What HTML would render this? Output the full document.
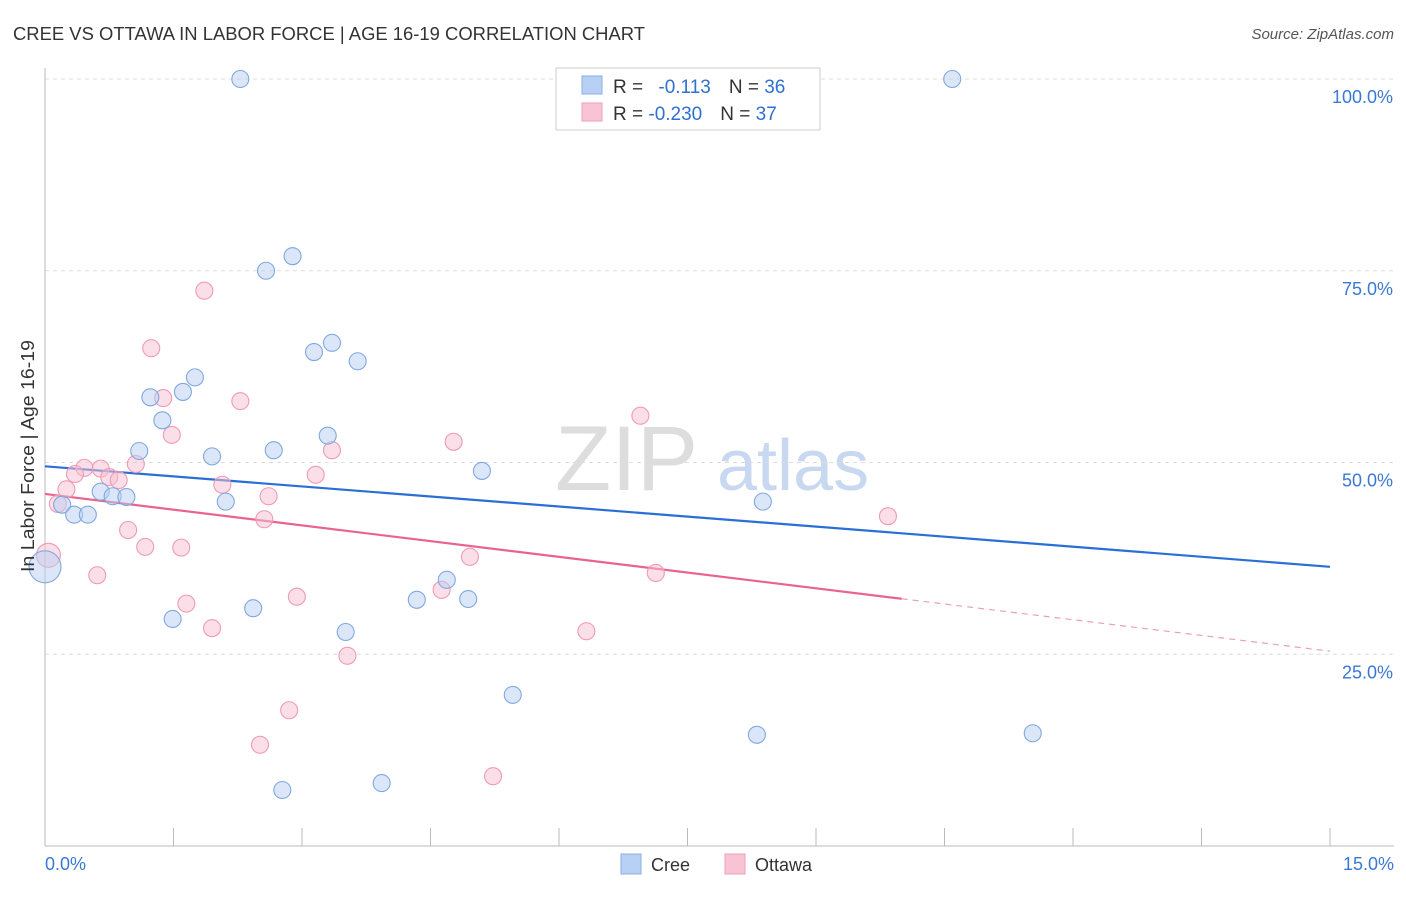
<!DOCTYPE html>
<html><head><meta charset="utf-8"><style>
body{margin:0;background:#fff;font-family:"Liberation Sans",sans-serif;}
svg text{font-family:"Liberation Sans",sans-serif;}
</style></head><body>
<svg width="1406" height="892" xmlns="http://www.w3.org/2000/svg">
<text x="13" y="40" font-size="18" fill="#333" textLength="632" lengthAdjust="spacingAndGlyphs">CREE VS OTTAWA IN LABOR FORCE | AGE 16-19 CORRELATION CHART</text>
<text x="1394" y="39" font-size="15" fill="#555" text-anchor="end" font-style="italic">Source: ZipAtlas.com</text>
<g>
<text x="555" y="490" font-size="92" fill="#ddd" font-family="Liberation Serif">ZIP</text>
<text x="717" y="490" font-size="72" fill="#c8d8f0">atlas</text>
</g>
<g id="grid"></g>
<g id="axes"></g>
<g id="lines"></g>
<g id="pts"></g>
<g>
<rect x="556" y="68" width="264" height="62" fill="#fff" stroke="#ccc"/>
<rect x="582" y="76" width="20" height="18" fill="#b8d0f4" stroke="#88aee0"/>
<rect x="582" y="103" width="20" height="18" fill="#f8c4d4" stroke="#f0a0b8"/>
<text x="613" y="93" font-size="19" fill="#333">R = <tspan fill="#3070d0" dx="10">-0.113</tspan><tspan fill="#333" dx="18">N = </tspan><tspan fill="#3070d0">36</tspan></text>
<text x="613" y="120" font-size="19" fill="#333">R = <tspan fill="#3070d0">-0.230</tspan><tspan fill="#333" dx="18">N = </tspan><tspan fill="#3070d0">37</tspan></text>
</g>
<g>
<rect x="621" y="854" width="20" height="20" fill="#b8d0f4" stroke="#88aee0"/>
<text x="651" y="871" font-size="18" fill="#333">Cree</text>
<rect x="725" y="854" width="20" height="20" fill="#f8c4d4" stroke="#f0a0b8"/>
<text x="755" y="871" font-size="18" fill="#333">Ottawa</text>
</g>
<text x="34" y="456" font-size="18" fill="#333" text-anchor="middle" textLength="232" lengthAdjust="spacingAndGlyphs" transform="rotate(-90 34 456)">In Labor Force | Age 16-19</text>
</svg>
<script>
const yTicks=[100,75,50,25];
const yTickLabels=["100.0%","75.0%","50.0%","25.0%"];
const xTickLabels=["0.0%","15.0%"];
const creeX=[2.28,10.59,2.89,2.58,3.35,3.14,3.65,1.75,1.61,1.23,1.37,3.30,1.10,2.67,1.95,5.10,0.65,0.79,0.95,2.11,8.38,0.20,0.34,0.50,0,4.69,4.34,4.94,2.43,1.49,3.51,5.46,8.31,11.53,2.77,3.93];
const creeY=[100,100,76.9,75.0,65.6,64.4,63.2,61.1,59.2,58.5,55.5,53.5,51.5,51.6,50.8,48.9,46.2,45.6,45.5,44.9,44.9,44.5,43.2,43.2,36.4,34.7,32.1,32.2,31.0,29.6,27.9,19.7,14.5,14.7,7.3,8.2];
const ottX=[1.86,1.24,2.28,1.38,1.48,4.77,6.95,3.35,1.06,0.46,0.65,0.35,0.75,0.86,3.16,2.07,0.25,2.61,0.15,2.56,9.84,0.97,1.17,1.59,0.04,4.96,0.61,7.13,4.63,2.94,1.65,1.95,6.32,3.53,2.85,2.51,5.23];
const ottY=[72.4,64.9,58.0,58.4,53.6,52.7,56.1,51.6,49.8,49.3,49.2,48.5,48.1,47.7,48.4,47.1,46.5,45.6,44.6,42.6,43.0,41.2,39.0,38.9,37.9,37.7,35.3,35.6,33.4,32.5,31.6,28.4,28.0,24.8,17.7,13.2,9.1];
const creeTrend=[49.5,36.4];
const ottTrend=[45.9,25.4];
const ottSolidEnd=10.0;
const NS="http://www.w3.org/2000/svg";
const X=v=>45+v/15*1285, Y=v=>846-v/100*767;
function mk(tag,attrs,parent){const e=document.createElementNS(NS,tag);for(const k in attrs)e.setAttribute(k,attrs[k]);document.getElementById(parent).appendChild(e);return e;}
yTicks.forEach((t,i)=>{
 const l=mk('line',{x1:45,x2:1394,y1:Y(t),y2:Y(t),stroke:'#ddd','stroke-dasharray':'4,4'},'grid');
 
 
 const tx=mk('text',{x:1393,y:Y(t)+24,'font-size':18,fill:'#3a78d4','text-anchor':'end'},'axes');
 tx.textContent=yTickLabels[i];
 
 
});
mk('line',{x1:45,x2:45,y1:68,y2:846,stroke:'#bbb'},'axes');
mk('line',{x1:45,x2:1394,y1:846,y2:846,stroke:'#bbb'},'axes');
for(let i=0;i<=10;i++){const x=X(i*1.5);mk('line',{x1:x,x2:x,y1:828,y2:846,stroke:'#bbb'},'axes');}
[[0,'start',45],[1,'end',1394]].forEach(([i,a,x])=>{const t=mk('text',{x:x,y:870,'font-size':18,fill:'#3a78d4','text-anchor':a},'axes');t.textContent=xTickLabels[i];

});
function pts(xs,ys,fill,stroke,name){xs.forEach((x,i)=>{const big=x<0.1;const c=mk('circle',{cx:X(x),cy:Y(ys[i]),r:big?(name=='cree-point'?16:12):8.5,fill:fill,'fill-opacity':0.5,stroke:stroke,'stroke-width':1.1},'pts');

});}
pts(ottX,ottY,'#f8c0d2','#f09ab4','ottawa-point');
pts(creeX,creeY,'#b8d0f4','#80a8e0','cree-point');
const b=mk('line',{x1:X(0),y1:Y(creeTrend[0]),x2:X(15),y2:Y(creeTrend[1]),stroke:'#2a6fd6','stroke-width':2.2},'lines');


const oy=v=>ottTrend[0]+(ottTrend[1]-ottTrend[0])*v/15;
const p=mk('line',{x1:X(0),y1:Y(ottTrend[0]),x2:X(ottSolidEnd),y2:Y(oy(ottSolidEnd)),stroke:'#e8648e','stroke-width':2.2},'lines');


const pd=mk('line',{x1:X(ottSolidEnd),y1:Y(oy(ottSolidEnd)),x2:X(15),y2:Y(ottTrend[1]),stroke:'#e8a0b8','stroke-width':1.2,'stroke-dasharray':'6,5'},'lines');


</script>
</body></html>
